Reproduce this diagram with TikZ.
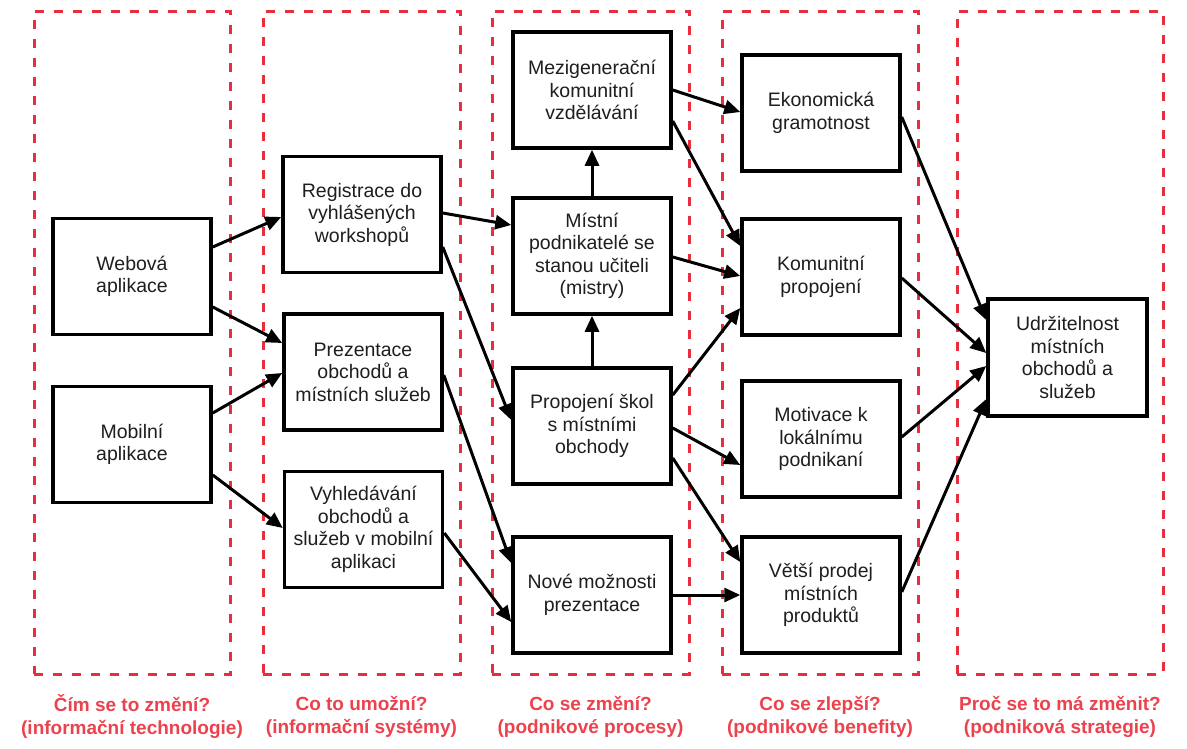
\documentclass[tikz,border=0pt]{standalone}
\usepackage{fontspec}
\setmainfont{Liberation Sans}
\usetikzlibrary{arrows.meta}
\definecolor{grpred}{RGB}{232,46,62}
\definecolor{lblred}{RGB}{236,66,78}
\definecolor{ink}{RGB}{30,30,30}
\begin{document}
\begin{tikzpicture}[x=1pt,y=-1pt,
  box/.style={draw=black, line width=3.5pt, fill=white, minimum width=158pt,
    minimum height=116pt, align=center, inner sep=2pt, text=ink,
    font=\fontsize{19.5}{22.5}\selectfont},
  grp/.style={draw=grpred, line width=3pt, dash pattern=on 9pt off 10pt,
    minimum height=663pt, inner sep=0pt},
  lbl/.style={text=lblred, align=center, font=\bfseries\fontsize{19}{23}\selectfont},
  arr/.style={line width=3pt, -{Triangle[length=16pt,width=14pt]}}]
\useasboundingbox (0,0) rectangle (1187,748);
\fill[white] (0,0) rectangle (1187,748);

% column frames
\node[grp, minimum width=196pt] (g1) at (132,342.5) {};
\node[grp, minimum width=197pt] (g2) at (361.5,342.5) {};
\node[grp, minimum width=197pt] (g3) at (590.5,342.5) {};
\node[grp, minimum width=196pt] (g4) at (820,342.5) {};
\node[grp, minimum width=206pt] (g5) at (1060,342.5) {};

% column captions
\node[lbl] (l1) at (132,716.5) {Čím se to změní?\\(informační technologie)};
\node[lbl] (l2) at (361.5,716.5) {Co to umožní?\\(informační systémy)};
\node[lbl] (l3) at (590.5,716.5) {Co se změní?\\(podnikové procesy)};
\node[lbl] (l4) at (820,716.5) {Co se zlepší?\\(podnikové benefity)};
\node[lbl] (l5) at (1060,716.5) {Proč se to má změnit?\\(podniková strategie)};

% information technology
\node[box] (web) at (132,276.5) {Webová\\aplikace};
\node[box] (mob) at (132,444.5) {Mobilní\\aplikace};

% information systems
\node[box] (reg) at (362,214.5) {Registrace do\\vyhlášených\\workshopů};
\node[box] (prez) at (363,372) {Prezentace\\obchodů a\\místních služeb};
\node[box] (vyh) at (363.5,529.5) {Vyhledávání\\obchodů a\\služeb v mobilní\\aplikaci};

% business processes
\node[box] (mez) at (592,90) {Mezigenerační\\komunitní\\vzdělávání};
\node[box] (mist) at (592,256) {Místní\\podnikatelé se\\stanou učiteli\\(mistry)};
\node[box] (prop) at (592,426) {Propojení škol\\s místními\\obchody};
\node[box] (nove) at (592,595) {Nové možnosti\\prezentace};

% business benefits
\node[box] (eko) at (821,113) {Ekonomická\\gramotnost};
\node[box] (kom) at (821,277) {Komunitní\\propojení};
\node[box] (mot) at (821,439) {Motivace k\\lokálnímu\\podnikaní};
\node[box] (vet) at (821,595) {Větší prodej\\místních\\produktů};

% strategy
\node[box, minimum width=159pt, minimum height=117pt] (udr) at (1067.5,357.5)
  {Udržitelnost\\místních\\obchodů a\\služeb};

% connectors
\draw[arr] ([yshift=29.5pt]web.east) -- ([yshift=-2.5pt]reg.west);
\draw[arr] ([yshift=-30.5pt]web.east) -- ([yshift=29pt]prez.west);
\draw[arr] ([yshift=31.5pt]mob.east) -- ([yshift=-1pt]prez.west);
\draw[arr] ([yshift=-30.5pt]mob.east) -- ([yshift=1.5pt]vyh.west);

\draw[arr] ([yshift=1.5pt]reg.east) -- ([yshift=31pt]mist.west);
\draw[arr] ([yshift=-32.5pt]reg.east) -- ([yshift=6pt]prop.west);
\draw[arr] ([yshift=-3pt]prez.east) -- ([yshift=32pt]nove.west);
\draw[arr] ([yshift=-3.5pt]vyh.east) -- ([yshift=-27pt]nove.west);

\draw[arr] (mist.north) -- (mez.south);
\draw[arr] (prop.north) -- (mist.south);

\draw[arr] (mez.east) -- ([yshift=1pt]eko.west);
\draw[arr] ([yshift=-31pt]mez.east) -- ([yshift=31pt]kom.west);
\draw[arr] ([yshift=-1pt]mist.east) -- ([yshift=1pt]kom.west);
\draw[arr] ([yshift=31pt]prop.east) -- ([yshift=-31pt]kom.west);
\draw[arr] ([yshift=-2pt]prop.east) -- ([yshift=-26pt]mot.west);
\draw[arr] ([yshift=-32pt]prop.east) -- ([yshift=33pt]vet.west);
\draw[arr] (nove.east) -- (vet.west);

\draw[arr] ([yshift=-4pt]eko.east) -- ([yshift=37.5pt]udr.west);
\draw[arr] ([yshift=-1pt]kom.east) -- ([yshift=4.5pt]udr.west);
\draw[arr] ([yshift=2pt]mot.east) -- ([yshift=-8.5pt]udr.west);
\draw[arr] ([yshift=3pt]vet.east) -- ([yshift=-41.5pt]udr.west);
\end{tikzpicture}
\end{document}
